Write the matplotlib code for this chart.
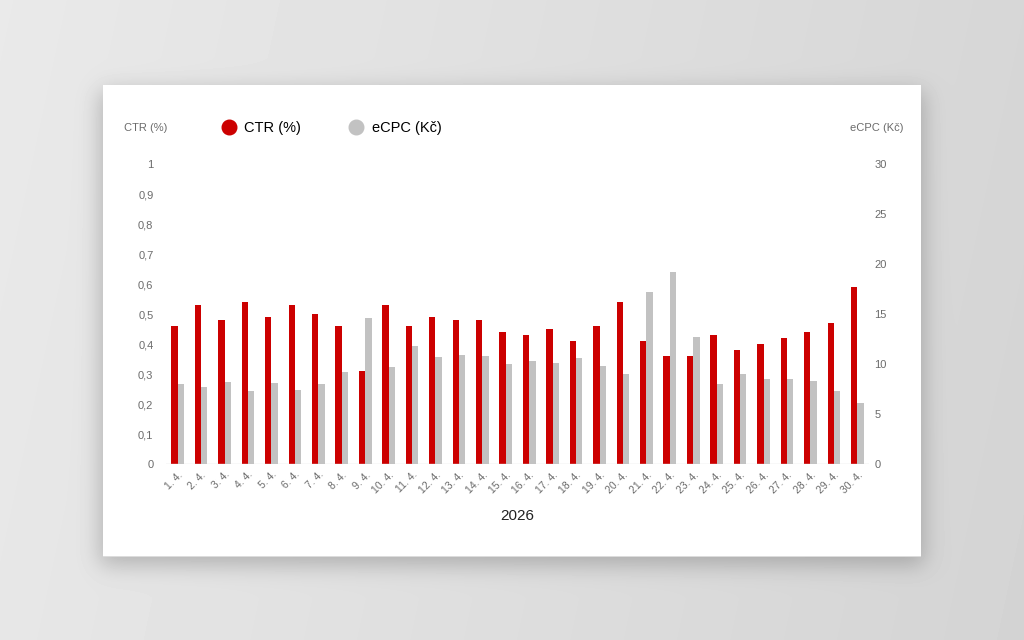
import numpy as np
import matplotlib.pyplot as plt
from matplotlib.lines import Line2D

plt.rcParams['font.family'] = ['Liberation Sans', 'DejaVu Sans']

# ---- data ----
days = [f'{d}. 4.' for d in range(1, 31)]
ctr = [0.46, 0.53, 0.48, 0.54, 0.49, 0.53, 0.50, 0.46, 0.31, 0.53,
       0.46, 0.49, 0.48, 0.48, 0.44, 0.43, 0.45, 0.41, 0.46, 0.54,
       0.41, 0.36, 0.36, 0.43, 0.38, 0.40, 0.42, 0.44, 0.47, 0.59]
ecpc = [8.0, 7.7, 8.2, 7.3, 8.1, 7.4, 8.0, 9.2, 14.6, 9.7,
        11.8, 10.7, 10.9, 10.8, 10.0, 10.3, 10.1, 10.6, 9.8, 9.0,
        17.2, 19.2, 12.7, 8.0, 9.0, 8.5, 8.5, 8.3, 7.3, 6.1]
left_ticks = [0, 0.1, 0.2, 0.3, 0.4, 0.5, 0.6, 0.7, 0.8, 0.9, 1]
right_ticks = [0, 5, 10, 15, 20, 25, 30]

RED = '#cc0000'
GREY = '#c2c2c2'
TXT = '#6b6b6b'

W, H = 1024, 640
fig = plt.figure(figsize=(W / 100, H / 100), dpi=100)


def blur(img, sigma):
    # separable gaussian blur, plain numpy
    k = np.arange(-3 * sigma, 3 * sigma + 1)
    g = np.exp(-k ** 2 / (2 * sigma ** 2))
    g /= g.sum()
    img = np.apply_along_axis(lambda m: np.convolve(m, g, mode='same'), 0, img)
    img = np.apply_along_axis(lambda m: np.convolve(m, g, mode='same'), 1, img)
    return img


# ---- background: light-to-dark gradient, blurred card shadow, white card ----
bg = fig.add_axes([0, 0, 1, 1])
bg.axis('off')
yy, xx = np.mgrid[0:H, 0:W]
shade = 0.915 - 0.075 * (xx / W) - 0.01 * (yy / H)

cx0, cy0, cx1, cy1 = 103, 85, 921, 557
mask = np.zeros((H, W))
mask[cy0 + 6:cy1 + 8, cx0 - 3:cx1 + 3] = 1.0
shadow = blur(mask, 11)
shade = shade * (1 - 0.22 * shadow)
shade[cy0:cy1, cx0:cx1] = 1.0
shade[cy1 - 1, cx0:cx1] = 0.86
bg.imshow(shade, cmap='gray', vmin=0, vmax=1, extent=(0, W, H, 0), aspect='auto',
          interpolation='nearest')
bg.set_xlim(0, W)
bg.set_ylim(H, 0)

# ---- chart ----
ax = fig.add_axes([166 / W, (H - 464) / H, (869 - 166) / W, 300 / H])
ax2 = ax.twinx()
x = np.arange(len(days))
bw = 0.27
ax.bar(x - bw / 2, ctr, width=bw, color=RED, zorder=3)
ax2.bar(x + bw / 2, ecpc, width=bw, color=GREY, zorder=3)

ax.set_xlim(-0.5, len(days) - 0.5)
ax.set_ylim(0, 1)
ax2.set_ylim(0, 30)
ax.set_yticks(left_ticks)
ax.set_yticklabels([f'{t:g}'.replace('.', ',') for t in left_ticks])
ax2.set_yticks(right_ticks)
ax2.set_yticklabels([str(t) for t in right_ticks])
ax.set_xticks(x)
ax.set_xticklabels(days, rotation=45, ha='right', rotation_mode='anchor')

for a in (ax, ax2):
    for s in a.spines.values():
        s.set_visible(False)
    a.tick_params(length=0, labelsize=8, colors=TXT)
ax.tick_params(axis='y', pad=9)
ax2.tick_params(axis='y', pad=4)
ax.tick_params(axis='x', pad=4, labelsize=7.5)
ax.axhline(0, color='#dddddd', lw=1, zorder=4)
ax.set_xlabel('2026', fontsize=11, color='#222222', labelpad=10)

# axis titles and legend above the plot
fig.text(146 / W, (H - 128) / H, 'CTR (%)', fontsize=8, color=TXT, ha='center', va='center')
fig.text(877 / W, (H - 128) / H, 'eCPC (Kč)', fontsize=8, color=TXT, ha='center', va='center')
handles = [Line2D([], [], marker='o', ls='', ms=10.5, color=RED, label='CTR (%)'),
           Line2D([], [], marker='o', ls='', ms=10.5, color=GREY, label='eCPC (Kč)')]
fig.legend(handles=handles, loc='center left', bbox_to_anchor=(207 / W, (H - 128) / H),
           ncol=2, frameon=False, fontsize=10.5, handletextpad=0.45, columnspacing=3.2,
           handlelength=1.2)

fig.savefig('out.png', dpi=100)
